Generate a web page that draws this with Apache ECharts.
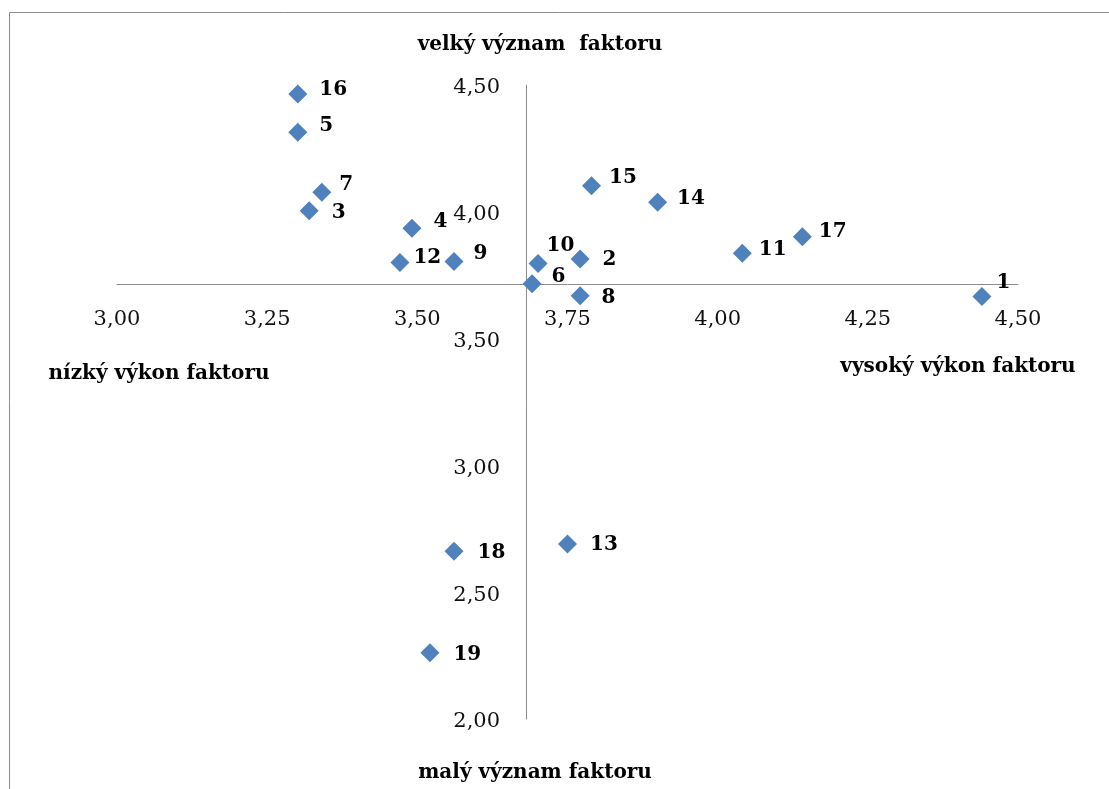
<!DOCTYPE html>
<html><head><meta charset="utf-8">
<script src="https://cdn.jsdelivr.net/npm/echarts@6/dist/echarts.min.js"></script>
<style>html,body{margin:0;padding:0;background:#fff}#c{width:1109px;height:789px}</style>
</head><body><div id="c"></div><script>
// ---- data ----
const pointNames  = ['1','2','3','4','5','6','7','8','9','10','11','12','13','14','15','16','17','18','19'];
const performance = [4.440,3.771,3.320,3.491,3.301,3.691,3.341,3.771,3.561,3.701,4.041,3.471,3.750,3.900,3.790,3.301,4.141,3.561,3.521];
const importance  = [3.666,3.814,4.004,3.935,4.314,3.716,4.077,3.669,3.804,3.796,3.837,3.800,2.690,4.038,4.103,4.465,3.902,2.661,2.261];
const xTickValues = [3.00,3.25,3.50,3.75,4.00,4.25,4.50];
const yTickValues = [2.00,2.50,3.00,3.50,4.00,4.50];
const crossX = 3.681;   // vertical axis crosses here
const crossY = 3.713;   // horizontal axis crosses here
const titleTop = 'velký význam  faktoru';
const titleBottom = 'malý význam faktoru';
const titleLeft = 'nízký výkon faktoru';
const titleRight = 'vysoký výkon faktoru';

// ---- layout (label nudges per point, px) ----
const labelShift = [[-7,-14],[1,1],[1,2],[0,-6],[0,-6],[-2,-7],[-4,-7],[0,2],[-2,-8],[-13,-18],[-5,-3],[-8,-5],[1,1],[-2,-3],[-4,-8],[0,-4],[-5,-5],[2,1],[2,2]];

const W = 1109, H = 789;
const grid = {left: 117, right: 91, top: 85, bottom: 70};
const gW = W - grid.left - grid.right, gH = H - grid.top - grid.bottom;
const xMin = xTickValues[0], xMax = xTickValues[xTickValues.length-1];
const yMin = yTickValues[0], yMax = yTickValues[yTickValues.length-1];
const yAxisOffset = -((crossX - xMin) / (xMax - xMin)) * gW;
const xAxisOffset = -((crossY - yMin) / (yMax - yMin)) * gH;

const serif = '"DejaVu Serif", "Liberation Serif", serif';
const fmt = v => v.toFixed(2).replace('.', ',');

const data = pointNames.map((n, i) => ({name: n, value: [performance[i], importance[i]]}));

const chart = echarts.init(document.getElementById('c'), null, {renderer: 'canvas'});
chart.setOption({
  animation: false,
  backgroundColor: '#fff',
  grid: {left: grid.left, right: grid.right, top: grid.top, bottom: grid.bottom, containLabel: false},
  xAxis: {
    type: 'value', min: xMin, max: xMax, interval: 0.25, position: 'bottom', offset: xAxisOffset,
    axisLine: {show: true, lineStyle: {color: '#8c8c8c', width: 1}},
    axisTick: {show: false}, splitLine: {show: false},
    axisLabel: {formatter: fmt, color: '#111', fontFamily: serif, fontSize: 21, margin: 24, hideOverlap: false, showMinLabel: true, showMaxLabel: true}
  },
  yAxis: {
    type: 'value', min: yMin, max: yMax, interval: 0.5, position: 'left', offset: yAxisOffset,
    axisLine: {show: true, lineStyle: {color: '#8c8c8c', width: 1}},
    axisTick: {show: false}, splitLine: {show: false},
    axisLabel: {formatter: fmt, color: '#111', fontFamily: serif, fontSize: 21, margin: 26, verticalAlign: 'top', lineHeight: 6, hideOverlap: false, showMinLabel: true, showMaxLabel: true}
  },
  series: [{
    type: 'scatter',
    symbol: 'diamond',
    symbolSize: 19,
    itemStyle: {color: '#4F81BD', opacity: 1},
    label: {
      show: true, position: 'right', distance: 12,
      formatter: p => p.name,
      color: '#000', opacity: 1, fontFamily: serif, fontWeight: 'bold', fontSize: 20
    },
    labelLayout: p => ({dx: labelShift[p.dataIndex][0], dy: labelShift[p.dataIndex][1], hideOverlap: false}),
    data: data
  }],
  graphic: [
    {type: 'rect', z: -10, silent: true, shape: {x: 9.5, y: 12.5, width: 1300, height: 1000}, style: {fill: 'none', stroke: '#8c8c8c', lineWidth: 1}},
    {type: 'text', x: 540, y: 45, style: {text: titleTop, font: 'bold 20px ' + serif, fill: '#000', align: 'center', verticalAlign: 'middle'}},
    {type: 'text', x: 535, y: 773, style: {text: titleBottom, font: 'bold 20px ' + serif, fill: '#000', align: 'center', verticalAlign: 'middle'}},
    {type: 'text', x: 159, y: 374, style: {text: titleLeft, font: 'bold 20px ' + serif, fill: '#000', align: 'center', verticalAlign: 'middle'}},
    {type: 'text', x: 958, y: 367, style: {text: titleRight, font: 'bold 20px ' + serif, fill: '#000', align: 'center', verticalAlign: 'middle'}}
  ]
});
</script></body></html>
